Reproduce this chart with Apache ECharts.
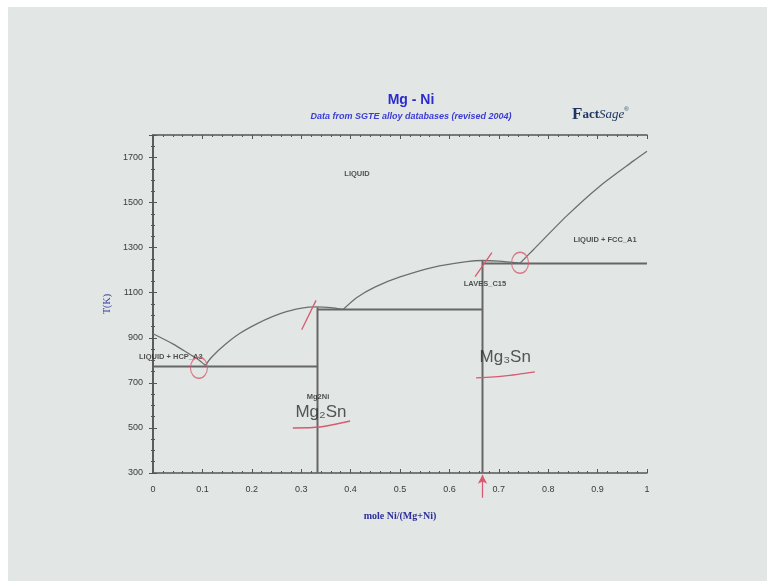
<!DOCTYPE html>
<html>
<head>
<meta charset="utf-8">
<title>Mg - Ni phase diagram</title>
<script src="https://cdn.jsdelivr.net/npm/echarts@6/dist/echarts.min.js"></script>
<style>
  html, body { margin: 0; padding: 0; background: #ffffff; }
  #chart { width: 767px; height: 581px; }
</style>
</head>
<body>
<div id="chart"></div>
<script>
// Axis ticks
const xTicks = [0, 0.1, 0.2, 0.3, 0.4, 0.5, 0.6, 0.7, 0.8, 0.9, 1];
const yTicks = [300, 500, 700, 900, 1100, 1300, 1500, 1700];

// Liquidus branches, [mole fraction Ni, T in K]
const liquidusHcp = [[0, 918], [0.041, 872], [0.075, 826], [0.092, 803], [0.106, 778]];
const liquidusMg2Ni = [[0.106, 778], [0.119, 815], [0.146, 870], [0.176, 920], [0.21, 962], [0.243, 995], [0.27, 1016], [0.298, 1031], [0.331, 1037], [0.36, 1034], [0.385, 1026]];
const liquidusLaves = [[0.385, 1026], [0.412, 1078], [0.45, 1126], [0.5, 1170], [0.567, 1213], [0.635, 1238], [0.667, 1243], [0.7, 1240], [0.743, 1231]];
const liquidusFcc = [[0.743, 1231], [0.77, 1291], [0.837, 1440], [0.905, 1574], [0.972, 1684], [1, 1728]];

// Invariant lines and compound lines
const eutecticMg = [[0, 773], [0.333, 773]];
const compoundMg2Ni = [[0.333, 300], [0.333, 1035]];
const peritecticMg2Ni = [[0.333, 1026], [0.667, 1026]];
const compoundLaves = [[0.667, 300], [0.667, 1243]];
const eutecticNi = [[0.667, 1230], [1, 1230]];

// Phase field labels
const phaseLabels = [
  [0.413, 1629, 'LIQUID'],
  [0.915, 1335, 'LIQUID + FCC_A1'],
  [0.672, 1140, 'LAVES_C15'],
  [0.036, 816, 'LIQUID + HCP_A3'],
  [0.334, 638, 'Mg2Ni']
];

// Hand-drawn notes over the diagram
const noteTexts = [
  [0.340, 571, 'Mg₂Sn'],
  [0.713, 815, 'Mg₃Sn']
];
const noteCircles = [[0.093, 767], [0.743, 1233]];
const noteSlashes = [
  [[0.301, 936], [0.330, 1066]],
  [[0.652, 1172], [0.686, 1278]]
];
const noteUnderlines = [
  [[0.283, 500], [0.338, 504], [0.399, 531]],
  [[0.654, 722], [0.713, 731], [0.773, 749]]
];
const noteArrow = [[0.667, 190], [0.667, 292]];

const lineGray = '#6e6e6e';
const noteRed = '#d85a70';

function curve(data, width, color) {
  return {
    type: 'line', data: data, symbol: 'none', smooth: 0.25,
    lineStyle: { color: color || lineGray, width: width || 1.3 },
    silent: true, z: 3
  };
}
function straight(data) {
  return {
    type: 'line', data: data, symbol: 'none',
    lineStyle: { color: '#666666', width: 2 },
    silent: true, z: 3
  };
}

const series = [
  curve(liquidusHcp), curve(liquidusMg2Ni), curve(liquidusLaves), curve(liquidusFcc),
  straight(eutecticMg), straight(compoundMg2Ni), straight(peritecticMg2Ni),
  straight(compoundLaves), straight(eutecticNi),
  {
    type: 'scatter', data: phaseLabels, symbolSize: 0, silent: true, z: 5,
    label: {
      show: true, position: 'inside', formatter: p => p.value[2],
      fontSize: 7.5, color: '#2a2a2a', fontFamily: 'Liberation Sans', fontWeight: 'bold'
    }
  },
  {
    type: 'scatter', data: noteTexts, symbolSize: 0, silent: true, z: 6,
    label: {
      show: true, position: 'inside', formatter: p => p.value[2],
      fontSize: 17, color: '#2e2e2e', fontFamily: 'Liberation Sans'
    }
  },
  {
    type: 'scatter', data: noteCircles, symbol: 'circle', symbolSize: [17, 21],
    itemStyle: { color: 'rgba(0,0,0,0)', borderColor: noteRed, borderWidth: 1.2 }, silent: true, z: 7
  }
];
noteSlashes.forEach(s => series.push(Object.assign(curve(s, 1.3, noteRed), { clip: false, z: 7 })));
noteUnderlines.forEach(s => series.push(Object.assign(curve(s, 1.4, noteRed), { clip: false, z: 7 })));
series.push({
  type: 'line', clip: false, z: 7, silent: true,
  data: [
    { value: noteArrow[0], symbol: 'none' },
    { value: noteArrow[1], symbol: 'arrow', symbolSize: [7, 9] }
  ],
  showAllSymbol: true,
  itemStyle: { color: noteRed },
  lineStyle: { color: noteRed, width: 1.3 }
});

const frameColor = '#555555';
const axisBase = {
  min: 0, max: 1, interval: 0.1, type: 'value',
  axisLine: { show: true, lineStyle: { color: frameColor, width: 1.5 } },
  axisTick: { show: true, inside: true, length: 4, lineStyle: { color: frameColor } },
  minorTick: { show: true, splitNumber: 5, length: 2, lineStyle: { color: frameColor } },
  splitLine: { show: false }
};

const chart = echarts.init(document.getElementById('chart'));
chart.setOption({
  animation: false,
  backgroundColor: '#e2e7e5',
  graphic: [
    { type: 'rect', shape: { x: 0, y: 0, width: 767, height: 7 }, style: { fill: '#ffffff' }, silent: true },
    { type: 'rect', shape: { x: 0, y: 0, width: 8, height: 581 }, style: { fill: '#ffffff' }, silent: true },
    {
      type: 'text', left: 572, top: 106, silent: true,
      style: {
        text: '{f|F}{a|act}{b|Sage}{r|®}',
        rich: {
          f: { fontSize: 17, fontWeight: 'bold', fontFamily: 'Liberation Serif', fill: '#1d3560' },
          a: { fontSize: 13, fontWeight: 'bold', fontFamily: 'Liberation Serif', fill: '#1d3560' },
          b: { fontSize: 13, fontStyle: 'italic', fontFamily: 'Liberation Serif', fill: '#1d3560' },
          r: { fontSize: 6, fontFamily: 'Liberation Sans', fill: '#1d3560', verticalAlign: 'top' }
        }
      }
    }
  ],
  title: {
    text: 'Mg - Ni',
    subtext: 'Data from SGTE alloy databases (revised 2004)',
    left: 406, top: 88, textAlign: 'center', itemGap: 5,
    textStyle: { fontSize: 14, fontWeight: 'bold', color: '#2b2bd0', fontFamily: 'Liberation Sans' },
    subtextStyle: { fontSize: 9, fontWeight: 'bold', fontStyle: 'italic', color: '#3b3bd6', fontFamily: 'Liberation Sans' }
  },
  grid: { left: 153, right: 120, top: 135, bottom: 108 },
  xAxis: [
    Object.assign({}, axisBase, {
      position: 'bottom',
      name: 'mole Ni/(Mg+Ni)', nameLocation: 'middle', nameGap: 38,
      nameTextStyle: { fontSize: 10, fontWeight: 'bold', color: '#2e2e9a', fontFamily: 'Liberation Serif' },
      axisLabel: {
        margin: 12, fontSize: 9, color: '#3a3a3a', fontFamily: 'Liberation Sans',
        formatter: v => {
          const t = xTicks.find(k => Math.abs(k - v) < 1e-9);
          return t === undefined ? '' : (t === 0 || t === 1 ? String(t) : t.toFixed(1));
        }
      }
    }),
    Object.assign({}, axisBase, { position: 'top', axisLabel: { show: false } })
  ],
  yAxis: [
    Object.assign({}, axisBase, {
      min: 300, max: 1800, interval: 200, position: 'left',
      minorTick: { show: true, splitNumber: 4, length: 2, lineStyle: { color: frameColor } },
      name: 'T(K)', nameLocation: 'middle', nameGap: 36,
      nameTextStyle: { fontSize: 10, color: '#3a3aa0', fontFamily: 'Liberation Serif' },
      axisLabel: {
        margin: 10, fontSize: 9, color: '#3a3a3a', fontFamily: 'Liberation Sans', showMaxLabel: false,
        formatter: v => (yTicks.indexOf(v) >= 0 ? String(v) : '')
      }
    }),
    Object.assign({}, axisBase, {
      min: 300, max: 1800, interval: 200, position: 'right',
      minorTick: { show: true, splitNumber: 4, length: 2, lineStyle: { color: frameColor } },
      axisLabel: { show: false }
    })
  ],
  series: series
});
</script>
</body>
</html>
